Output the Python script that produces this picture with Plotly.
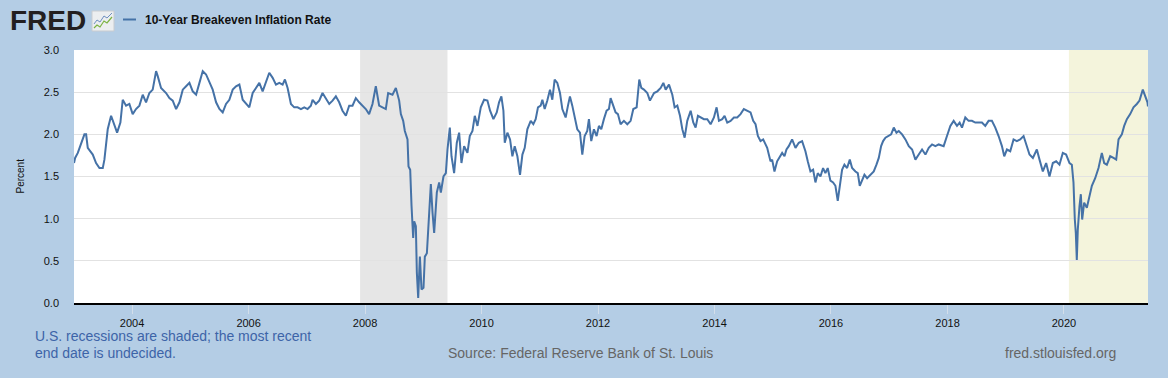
import pandas as pd
import plotly.graph_objects as go

# ---- data (decimal years and percent values) ----
years_2003_2007 = [2003.003, 2003.022, 2003.068, 2003.125, 2003.182, 2003.211, 2003.239, 2003.325, 2003.382, 2003.440,
    2003.497, 2003.525, 2003.582, 2003.640, 2003.697, 2003.743, 2003.800, 2003.840, 2003.897, 2003.954,
    2004.011, 2004.068, 2004.126, 2004.183, 2004.240, 2004.297, 2004.354, 2004.412, 2004.440, 2004.497,
    2004.583, 2004.640, 2004.697, 2004.755, 2004.812, 2004.869, 2004.926, 2004.983, 2005.040, 2005.098,
    2005.155, 2005.212, 2005.269, 2005.326, 2005.383, 2005.441, 2005.498, 2005.555, 2005.612, 2005.669,
    2005.727, 2005.784, 2005.841, 2005.898, 2005.955, 2006.012, 2006.070, 2006.127, 2006.184, 2006.241,
    2006.298, 2006.355, 2006.413, 2006.470, 2006.527, 2006.584, 2006.624, 2006.670, 2006.727, 2006.784,
    2006.841, 2006.899, 2006.956, 2007.013, 2007.070, 2007.099, 2007.156, 2007.213, 2007.270, 2007.327,
    2007.385, 2007.442, 2007.499, 2007.556, 2007.613, 2007.671, 2007.728, 2007.785, 2007.842, 2007.899]
values_2003_2007 = [1.66, 1.72, 1.78, 1.90, 2.00, 2.00, 1.84, 1.76, 1.66, 1.60,
    1.60, 1.70, 2.06, 2.22, 2.10, 2.02, 2.14, 2.41, 2.34, 2.36,
    2.24, 2.30, 2.34, 2.47, 2.38, 2.49, 2.53, 2.75, 2.69, 2.55,
    2.49, 2.43, 2.40, 2.30, 2.38, 2.53, 2.57, 2.61, 2.51, 2.47,
    2.61, 2.75, 2.71, 2.61, 2.53, 2.38, 2.30, 2.26, 2.36, 2.41,
    2.53, 2.57, 2.59, 2.41, 2.36, 2.32, 2.49, 2.55, 2.61, 2.51,
    2.61, 2.73, 2.67, 2.59, 2.61, 2.59, 2.65, 2.55, 2.36, 2.32,
    2.32, 2.30, 2.32, 2.30, 2.34, 2.41, 2.36, 2.40, 2.49, 2.43,
    2.36, 2.40, 2.45, 2.38, 2.28, 2.22, 2.34, 2.34, 2.43, 2.38]

years_2008_2012 = [2008.013, 2008.070, 2008.128, 2008.185, 2008.242, 2008.299, 2008.356, 2008.396, 2008.471, 2008.528,
    2008.585, 2008.614, 2008.654, 2008.682, 2008.705, 2008.728, 2008.745, 2008.774, 2008.797, 2008.825,
    2008.842, 2008.871, 2008.888, 2008.911, 2008.940, 2008.968, 2009.002, 2009.025, 2009.060, 2009.100,
    2009.128, 2009.157, 2009.185, 2009.231, 2009.271, 2009.300, 2009.345, 2009.386, 2009.414, 2009.454,
    2009.483, 2009.528, 2009.574, 2009.614, 2009.654, 2009.700, 2009.757, 2009.797, 2009.843, 2009.883,
    2009.929, 2009.986, 2010.043, 2010.100, 2010.146, 2010.203, 2010.260, 2010.300, 2010.340, 2010.375,
    2010.398, 2010.443, 2010.489, 2010.529, 2010.569, 2010.615, 2010.660, 2010.701, 2010.741, 2010.786,
    2010.844, 2010.889, 2010.929, 2010.969, 2011.015, 2011.044, 2011.084, 2011.129, 2011.175, 2011.215,
    2011.255, 2011.301, 2011.347, 2011.387, 2011.444, 2011.484, 2011.518, 2011.558, 2011.598, 2011.644,
    2011.690, 2011.730, 2011.770, 2011.815, 2011.844, 2011.884, 2011.930, 2011.976, 2012.016, 2012.056,
    2012.101, 2012.147, 2012.187, 2012.216, 2012.261, 2012.301, 2012.341, 2012.387, 2012.444, 2012.502,
    2012.559, 2012.605, 2012.662, 2012.707, 2012.742, 2012.787, 2012.845, 2012.890]
values_2008_2012 = [2.30, 2.24, 2.36, 2.57, 2.34, 2.32, 2.30, 2.49, 2.47, 2.55,
    2.40, 2.24, 2.16, 2.04, 1.98, 1.94, 1.62, 1.58, 1.15, 0.77,
    0.97, 0.91, 0.36, 0.06, 0.55, 0.16, 0.18, 0.55, 0.59, 1.15,
    1.41, 1.07, 0.83, 1.31, 1.43, 1.31, 1.50, 1.54, 1.82, 2.08,
    1.74, 1.54, 1.90, 2.02, 1.66, 1.86, 1.78, 1.98, 2.04, 2.22,
    2.10, 2.32, 2.41, 2.40, 2.28, 2.18, 2.26, 2.38, 2.45, 2.28,
    1.90, 2.02, 1.94, 1.74, 1.86, 1.74, 1.52, 1.76, 1.84, 2.06,
    2.16, 2.12, 2.18, 2.32, 2.34, 2.41, 2.30, 2.40, 2.53, 2.41,
    2.65, 2.61, 2.49, 2.30, 2.20, 2.34, 2.45, 2.34, 2.22, 2.06,
    2.02, 1.76, 1.98, 2.04, 2.18, 1.92, 2.06, 1.98, 2.10, 2.06,
    2.18, 2.28, 2.30, 2.43, 2.34, 2.26, 2.24, 2.12, 2.16, 2.12,
    2.16, 2.30, 2.32, 2.65, 2.55, 2.53, 2.49, 2.40]

years_2013_2017 = [2012.960, 2013.017, 2013.074, 2013.120, 2013.160, 2013.217, 2013.274, 2013.314, 2013.360, 2013.406,
    2013.446, 2013.486, 2013.531, 2013.589, 2013.634, 2013.674, 2013.714, 2013.760, 2013.817, 2013.875,
    2013.932, 2013.989, 2014.035, 2014.075, 2014.132, 2014.172, 2014.218, 2014.275, 2014.332, 2014.389,
    2014.446, 2014.503, 2014.561, 2014.618, 2014.664, 2014.704, 2014.744, 2014.789, 2014.835, 2014.875,
    2014.904, 2014.932, 2014.961, 2014.989, 2015.029, 2015.075, 2015.121, 2015.161, 2015.201, 2015.235,
    2015.275, 2015.332, 2015.390, 2015.447, 2015.504, 2015.561, 2015.601, 2015.647, 2015.693, 2015.733,
    2015.773, 2015.819, 2015.864, 2015.904, 2015.944, 2015.990, 2016.036, 2016.076, 2016.116, 2016.150,
    2016.190, 2016.230, 2016.276, 2016.322, 2016.362, 2016.419, 2016.459, 2016.493, 2016.533, 2016.573,
    2016.619, 2016.676, 2016.733, 2016.779, 2016.819, 2016.859, 2016.893, 2016.933, 2016.991, 2017.031,
    2017.076, 2017.122, 2017.162, 2017.219, 2017.276, 2017.334, 2017.391, 2017.448, 2017.505, 2017.562,
    2017.620, 2017.677, 2017.734, 2017.791, 2017.848]
values_2013_2017 = [2.49, 2.51, 2.55, 2.61, 2.53, 2.59, 2.47, 2.32, 2.34, 2.22,
    2.06, 1.96, 2.16, 2.28, 2.14, 2.08, 2.22, 2.20, 2.18, 2.18,
    2.12, 2.20, 2.32, 2.16, 2.18, 2.22, 2.14, 2.16, 2.20, 2.20,
    2.24, 2.30, 2.28, 2.26, 2.16, 2.12, 1.98, 1.92, 1.94, 1.88,
    1.84, 1.76, 1.68, 1.70, 1.56, 1.68, 1.74, 1.78, 1.74, 1.82,
    1.86, 1.94, 1.84, 1.90, 1.92, 1.80, 1.68, 1.56, 1.58, 1.43,
    1.54, 1.50, 1.60, 1.54, 1.60, 1.45, 1.43, 1.39, 1.21, 1.39,
    1.58, 1.64, 1.60, 1.70, 1.60, 1.56, 1.54, 1.39, 1.46, 1.52,
    1.48, 1.52, 1.56, 1.64, 1.72, 1.86, 1.92, 1.96, 1.98, 2.00,
    2.08, 2.02, 2.04, 2.00, 1.94, 1.86, 1.82, 1.70, 1.76, 1.82,
    1.76, 1.84, 1.88, 1.86, 1.88]

years_2018_2021 = [2017.933, 2017.990, 2018.048, 2018.105, 2018.162, 2018.208, 2018.248, 2018.305, 2018.362, 2018.419,
    2018.476, 2018.534, 2018.591, 2018.648, 2018.705, 2018.762, 2018.820, 2018.877, 2018.934, 2018.974,
    2019.020, 2019.077, 2019.134, 2019.191, 2019.248, 2019.306, 2019.363, 2019.408, 2019.466, 2019.534,
    2019.580, 2019.637, 2019.694, 2019.751, 2019.809, 2019.866, 2019.923, 2019.980, 2020.037, 2020.095,
    2020.135, 2020.163, 2020.186, 2020.203, 2020.220, 2020.237, 2020.266, 2020.289, 2020.312, 2020.346,
    2020.392, 2020.438, 2020.478, 2020.535, 2020.592, 2020.649, 2020.689, 2020.735, 2020.792, 2020.849,
    2020.895, 2020.935, 2020.992, 2021.032, 2021.078, 2021.135, 2021.192, 2021.249, 2021.295, 2021.352,
    2021.392, 2021.432, 2021.440]
values_2018_2021 = [1.86, 1.98, 2.10, 2.16, 2.10, 2.14, 2.08, 2.20, 2.16, 2.16,
    2.14, 2.14, 2.14, 2.10, 2.16, 2.16, 2.08, 1.98, 1.86, 1.74,
    1.82, 1.80, 1.94, 1.92, 1.94, 1.98, 1.86, 1.76, 1.72, 1.82,
    1.70, 1.56, 1.66, 1.50, 1.66, 1.68, 1.64, 1.78, 1.76, 1.66,
    1.64, 1.43, 0.99, 0.83, 0.51, 0.87, 1.15, 1.29, 0.99, 1.19,
    1.13, 1.27, 1.39, 1.48, 1.60, 1.78, 1.66, 1.64, 1.74, 1.72,
    1.70, 1.94, 2.00, 2.10, 2.18, 2.24, 2.32, 2.36, 2.40, 2.53,
    2.45, 2.38, 2.33]

recession_starts = ["2007-12-01", "2020-02-01"]
recession_ends = ["2009-06-01", "2021-06-11"]
recession_colors = ["#e6e6e6", "#f4f4dc"]

x_range = ["2003-01-02", "2021-06-11"]
y_ticks = [0.0, 0.5, 1.0, 1.5, 2.0, 2.5, 3.0]
series_name = "10-Year Breakeven Inflation Rate"


def to_date(y):
    yr = int(y)
    start = pd.Timestamp(yr, 1, 1)
    end = pd.Timestamp(yr + 1, 1, 1)
    return start + (end - start) * (y - yr)


years = years_2003_2007 + years_2008_2012 + years_2013_2017 + years_2018_2021
values = values_2003_2007 + values_2008_2012 + values_2013_2017 + values_2018_2021
dates = [to_date(y) for y in years]

W, H = 1168, 378
ML, MR, MT, MB = 74, 20, 50, 75
PW, PH = W - ML - MR, H - MT - MB


def px(x):
    return (x - ML) / PW


def py(y):
    return (H - MB - y) / PH


BG = "#b4cde5"
LINE = "#4572a7"
FONT = "Liberation Sans, Arial, sans-serif"

fig = go.Figure()
fig.add_trace(go.Scatter(x=dates, y=values, mode="lines", name=series_name,
                         line=dict(color=LINE, width=2), showlegend=False))

shapes = []
for s, e, c in zip(recession_starts, recession_ends, recession_colors):
    shapes.append(dict(type="rect", xref="x", yref="paper", x0=s, x1=e, y0=0, y1=1,
                       fillcolor=c, line=dict(width=0),
                       layer="between" if c == "#e6e6e6" else "below"))

# legend line sample
shapes.append(dict(type="line", xref="paper", yref="paper", x0=px(123), x1=px(136),
                   y0=py(19.5), y1=py(19.5), line=dict(color=LINE, width=2)))
# small graph icon next to logo
shapes.append(dict(type="rect", xref="paper", yref="paper", x0=px(92), x1=px(114),
                   y0=py(31), y1=py(11), fillcolor="#eceef0", line=dict(color="#c9ccd0", width=1)))


def path(pts):
    return "M " + " L ".join(f"{px(a):.5f},{py(b):.5f}" for a, b in pts)


shapes.append(dict(type="path", xref="paper", yref="paper",
                   path=path([(94, 24), (97, 20), (100, 22), (104, 16), (107, 18), (112, 13)]),
                   line=dict(color="#6f8fc0", width=1)))
shapes.append(dict(type="path", xref="paper", yref="paper",
                   path=path([(94, 28), (97, 25), (100, 27), (104, 21), (107, 23), (112, 17)]),
                   line=dict(color="#7cb342", width=1.2)))

annotations = [
    dict(text="<b>FRED</b>", x=px(8), y=py(20), xref="paper", yref="paper", xanchor="left",
         yanchor="middle", showarrow=False,
         font=dict(family="Liberation Sans, Arial", size=28, color="#231f20")),
    dict(text="<b>" + series_name + "</b>", x=px(143), y=py(19.5), xref="paper", yref="paper",
         xanchor="left", yanchor="middle", showarrow=False, font=dict(family=FONT, size=12, color="#111")),
    dict(text="Percent", x=px(20), y=0.5, xref="paper", yref="paper", textangle=-90,
         xanchor="center", yanchor="middle", showarrow=False, font=dict(family=FONT, size=10, color="#111")),
    dict(text="U.S. recessions are shaded; the most recent", x=px(33), y=py(336), xref="paper",
         yref="paper", xanchor="left", yanchor="middle", showarrow=False,
         font=dict(family=FONT, size=14, color="#3d64a8")),
    dict(text="end date is undecided.", x=px(33), y=py(353), xref="paper",
         yref="paper", xanchor="left", yanchor="middle", showarrow=False,
         font=dict(family=FONT, size=14, color="#3d64a8")),
    dict(text="Source: Federal Reserve Bank of St. Louis", x=px(446), y=py(353), xref="paper",
         yref="paper", xanchor="left", yanchor="middle", showarrow=False,
         font=dict(family=FONT, size=14, color="#666666")),
    dict(text="fred.stlouisfed.org", x=px(1118), y=py(353), xref="paper",
         yref="paper", xanchor="right", yanchor="middle", showarrow=False,
         font=dict(family=FONT, size=14, color="#666666")),
]

fig.update_layout(
    width=W, height=H,
    margin=dict(l=ML, r=MR, t=MT, b=MB, pad=0),
    paper_bgcolor=BG, plot_bgcolor="white",
    font=dict(family=FONT, size=11, color="#111"),
    shapes=shapes, annotations=annotations,
    showlegend=False,
    xaxis=dict(range=x_range, type="date", tick0="2004-01-01", dtick="M24", tickformat="%Y",
               showgrid=False, showline=True, linecolor="black", linewidth=2,
               ticks="outside", ticklen=9, tickcolor="#d3deea", tickwidth=1,
               tickfont=dict(size=11, color="#111"), zeroline=False, fixedrange=True),
    yaxis=dict(range=[0, 3], tickvals=y_ticks, ticktext=[f"{v:.1f}" for v in y_ticks],
               showgrid=True, gridcolor="#e2e2e2", gridwidth=1, zeroline=False,
               showline=False, ticks="", ticklabelstandoff=14,
               tickfont=dict(size=11, color="#111"), fixedrange=True),
)

fig.write_html("out.html", config={"displayModeBar": False})

# remove the default page margin so the figure fills the window like the reference
with open("out.html", encoding="utf-8") as f:
    html = f.read()
html = html.replace("<head>", "<head><style>html,body{margin:0;padding:0;background:%s;}</style>" % BG, 1)
with open("out.html", "w", encoding="utf-8") as f:
    f.write(html)
